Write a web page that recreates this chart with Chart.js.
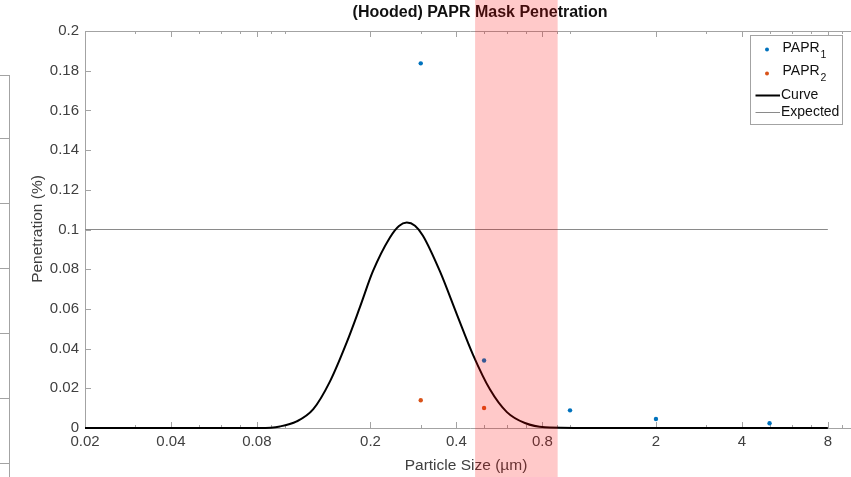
<!DOCTYPE html>
<html>
<head>
<meta charset="utf-8">
<script src="https://cdn.jsdelivr.net/npm/chart.js@4.4.0/dist/chart.umd.min.js"></script>
<style>
  html, body { margin: 0; padding: 0; overflow: hidden; background: #fff; }
  #wrap { position: relative; width: 860px; height: 477px; }
</style>
</head>
<body>
<div id="wrap"><canvas id="myChart" width="860" height="477"></canvas></div>
<script>
// measured points (particle size in µm, penetration in %)
var papr1X = [0.3, 0.5, 1, 2, 5];
var papr1Y = [0.1837, 0.034, 0.0089, 0.0045, 0.0024];
var papr2X = [0.3, 0.5];
var papr2Y = [0.014, 0.0101];

// fitted curve
var curveX = [0.02, 0.05, 0.082, 0.0964, 0.1103, 0.1261, 0.1443, 0.165, 0.1838, 0.204, 0.234, 0.2517, 0.268, 0.2864, 0.305, 0.35, 0.402, 0.457, 0.524, 0.601, 0.695, 0.817, 1.26, 8];
var curveY = [0, 0, 0, 0.0008, 0.0033, 0.0095, 0.0235, 0.043, 0.061, 0.079, 0.096, 0.1018, 0.1035, 0.1019, 0.097, 0.079, 0.057, 0.037, 0.0195, 0.008, 0.0025, 0.0004, 0, 0];

// expected level
var expectedX = [0.02, 8];
var expectedY = [0.1, 0.1];

// MPPS band (red patch)
var bandX = [0.465, 0.905];

// ticks
var xMajor = [0.02, 0.04, 0.08, 0.2, 0.4, 0.8, 2, 4, 8];
var xLabels = ['0.02', '0.04', '0.08', '0.2', '0.4', '0.8', '2', '4', '8'];
var xMinor = [0.03, 0.05, 0.06, 0.07, 0.09, 0.1, 0.3, 0.5, 0.6, 0.7, 0.9, 1, 3, 5, 6, 7, 9, 10];
var yTicks = [0, 0.02, 0.04, 0.06, 0.08, 0.1, 0.12, 0.14, 0.16, 0.18, 0.2];
var yLabels = ['0', '0.02', '0.04', '0.06', '0.08', '0.1', '0.12', '0.14', '0.16', '0.18', '0.2'];

function pts(xs, ys) {
  return xs.map(function (x, i) { return { x: x, y: ys[i] }; });
}

var axisCol = '#a3a3a3';
var textCol = '#404040';
var fontFam = '"Liberation Sans", Arial, Helvetica, sans-serif';

var matlabLook = {
  id: 'matlabLook',
  beforeDatasetsDraw: function (chart) {
    var ctx = chart.ctx, a = chart.chartArea, xs = chart.scales.x, ys = chart.scales.y;
    ctx.save();
    ctx.strokeStyle = axisCol;
    ctx.lineWidth = 1;
    ctx.beginPath();
    // left, top, bottom axis lines
    ctx.moveTo(a.left + 0.5, a.bottom + 0.5); ctx.lineTo(a.left + 0.5, a.top + 0.5); ctx.lineTo(a.right, a.top + 0.5);
    ctx.moveTo(a.left, a.bottom + 0.5); ctx.lineTo(a.right, a.bottom + 0.5);
    // x ticks inward, top and bottom
    xMajor.concat(xMinor).forEach(function (v) {
      var len = xMajor.indexOf(v) >= 0 ? 6 : 3;
      var px = Math.round(xs.getPixelForValue(v)) + 0.5;
      ctx.moveTo(px, a.bottom); ctx.lineTo(px, a.bottom - len);
      ctx.moveTo(px, a.top); ctx.lineTo(px, a.top + len);
    });
    // y ticks inward
    yTicks.forEach(function (v) {
      var py = Math.round(ys.getPixelForValue(v)) + 0.5;
      ctx.moveTo(a.left, py); ctx.lineTo(a.left + 6, py);
    });
    // remains of the neighbouring axes on the far left
    ctx.moveTo(9.5, 75.5); ctx.lineTo(9.5, 477);
    ctx.moveTo(0, 75.5); ctx.lineTo(10, 75.5);
    [138, 203, 268, 333, 398, 463].forEach(function (y) {
      ctx.moveTo(0, y + 0.5); ctx.lineTo(9.5, y + 0.5);
    });
    ctx.stroke();

    // title and axis titles
    ctx.fillStyle = '#111';
    ctx.textAlign = 'center';
    ctx.textBaseline = 'middle';
    ctx.font = 'bold 16px ' + fontFam;
    ctx.fillText('(Hooded) PAPR Mask Penetration', 480, 13);
    ctx.fillStyle = textCol;
    ctx.font = '15.5px ' + fontFam;
    ctx.fillText('Particle Size (\u00b5m)', 466, 466);
    ctx.translate(38, 229);
    ctx.rotate(-Math.PI / 2);
    ctx.fillText('Penetration (%)', 0, 0);
    ctx.restore();
  },
  afterDraw: function (chart) {
    var ctx = chart.ctx, xs = chart.scales.x;
    ctx.save();
    // red band over everything
    var x0 = xs.getPixelForValue(bandX[0]), x1 = xs.getPixelForValue(bandX[1]);
    ctx.fillStyle = 'rgba(255,0,0,0.21)';
    ctx.fillRect(x0, 0, x1 - x0, chart.height);

    // legend box
    ctx.fillStyle = '#fff';
    ctx.fillRect(751, 36, 91, 88);
    ctx.strokeStyle = axisCol;
    ctx.lineWidth = 1;
    ctx.strokeRect(750.5, 35.5, 92, 89);
    ctx.textAlign = 'left';
    ctx.textBaseline = 'middle';
    ctx.fillStyle = '#0072BD';
    ctx.beginPath(); ctx.arc(767, 49.5, 2, 0, Math.PI * 2); ctx.fill();
    ctx.fillStyle = '#D95319';
    ctx.beginPath(); ctx.arc(767, 73.5, 2, 0, Math.PI * 2); ctx.fill();
    ctx.fillStyle = '#111';
    ctx.font = '14px ' + fontFam;
    var w = ctx.measureText('PAPR').width;
    ctx.fillText('PAPR', 782.5, 48);
    ctx.fillText('PAPR', 782.5, 71.5);
    ctx.font = '10.5px ' + fontFam;
    ctx.fillText('1', 782.5 + w + 1, 55);
    ctx.fillText('2', 782.5 + w + 1, 78.5);
    ctx.font = '14px ' + fontFam;
    ctx.fillText('Curve', 781, 95.5);
    ctx.fillText('Expected', 781, 112);
    ctx.beginPath();
    ctx.strokeStyle = '#000'; ctx.lineWidth = 2;
    ctx.moveTo(755.5, 95.5); ctx.lineTo(780, 95.5);
    ctx.stroke();
    ctx.beginPath();
    ctx.strokeStyle = '#8a8a8a'; ctx.lineWidth = 1;
    ctx.moveTo(755.5, 112.5); ctx.lineTo(780, 112.5);
    ctx.stroke();
    ctx.restore();
  }
};

var ctx = document.getElementById('myChart').getContext('2d');
var myChart = new Chart(ctx, {
  type: 'scatter',
  data: {
    datasets: [
      {
        label: 'PAPR1',
        data: pts(papr1X, papr1Y),
        backgroundColor: '#0072BD',
        borderColor: '#0072BD',
        pointRadius: 2.2,
        pointBorderWidth: 0,
        clip: false
      },
      {
        label: 'PAPR2',
        data: pts(papr2X, papr2Y),
        backgroundColor: '#D95319',
        borderColor: '#D95319',
        pointRadius: 2.2,
        pointBorderWidth: 0,
        clip: false
      },
      {
        label: 'Curve',
        data: pts(curveX, curveY),
        showLine: true,
        borderColor: '#000',
        borderWidth: 2,
        pointRadius: 0,
        cubicInterpolationMode: 'monotone',
        clip: false
      },
      {
        label: 'Expected',
        data: pts(expectedX, expectedY),
        showLine: true,
        borderColor: '#8a8a8a',
        borderWidth: 1.2,
        pointRadius: 0,
        clip: false
      }
    ]
  },
  options: {
    responsive: false,
    animation: false,
    layout: { padding: { left: 0, right: 4.5, top: 31, bottom: 0 } },
    plugins: {
      legend: { display: false },
      tooltip: { enabled: false },
      title: { display: false }
    },
    scales: {
      x: {
        type: 'logarithmic',
        min: 0.02,
        max: 10,
        grid: { display: false, drawTicks: false },
        border: { display: false },
        afterBuildTicks: function (s) {
          s.ticks = xMajor.map(function (v) { return { value: v }; });
        },
        afterFit: function (s) { s.height = 49; },
        ticks: {
          autoSkip: false,
          maxRotation: 0,
          padding: 5,
          color: textCol,
          font: { family: fontFam, size: 15 },
          callback: function (v) {
            var i = xMajor.indexOf(v);
            return i >= 0 ? xLabels[i] : '';
          }
        }
      },
      y: {
        min: 0,
        max: 0.2,
        grid: { display: false, drawTicks: false },
        border: { display: false },
        afterBuildTicks: function (s) {
          s.ticks = yTicks.map(function (v) { return { value: v }; });
        },
        afterFit: function (s) { s.width = 85; },
        ticks: {
          padding: 6,
          color: textCol,
          font: { family: fontFam, size: 15 },
          callback: function (v) {
            var i = yTicks.indexOf(v);
            return i >= 0 ? yLabels[i] : '';
          }
        }
      }
    }
  },
  plugins: [matlabLook]
});
</script>
</body>
</html>
